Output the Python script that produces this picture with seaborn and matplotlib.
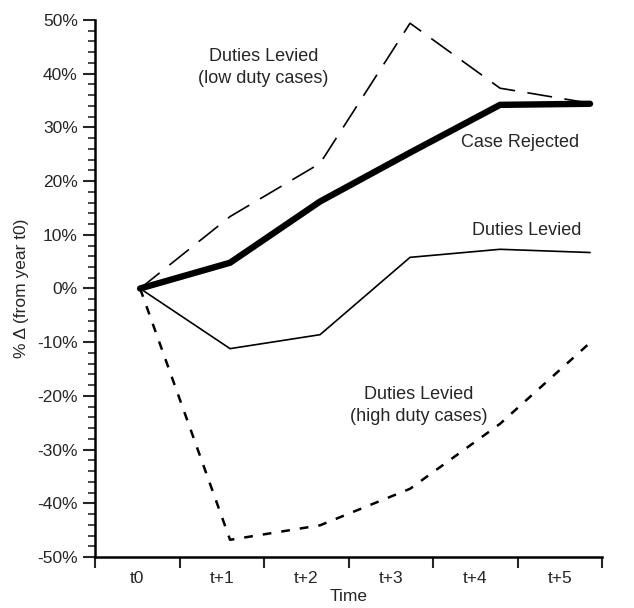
import numpy as np
import pandas as pd
import matplotlib
matplotlib.use("Agg")
import matplotlib.pyplot as plt
import seaborn as sns

# ---- data ----
periods = ["t0", "t+1", "t+2", "t+3", "t+4", "t+5"]
case_rejected = [0.0, 4.8, 16.2, 25.3, 34.2, 34.4]
duties_levied = [0.0, -11.2, -8.6, 5.8, 7.3, 6.7]
duties_low = [0.0, 13.4, 23.3, 49.4, 37.3, 34.5]
duties_high = [0.0, -46.8, -44.1, -37.3, -25.2, -10.1]
y_ticks = [-50, -40, -30, -20, -10, 0, 10, 20, 30, 40, 50]

series = {
    "Case Rejected": case_rejected,
    "Duties Levied": duties_levied,
    "Duties Levied (low duty cases)": duties_low,
    "Duties Levied (high duty cases)": duties_high,
}
rows = []
for name, vals in series.items():
    for i, v in enumerate(vals):
        rows.append({"series": name, "x": i, "value": v})
df = pd.DataFrame(rows)

sns.set_style("ticks")
plt.rcParams["font.family"] = ["Liberation Sans", "DejaVu Sans"]

fig = plt.figure(figsize=(6.34, 6.08), dpi=100)
ax = fig.add_axes([0.150, 0.0839, 0.7995, 0.8832])

styles = {
    "Case Rejected": dict(lw=4.6, ls="-"),
    "Duties Levied": dict(lw=1.2, ls="-"),
    "Duties Levied (low duty cases)": dict(lw=1.2, ls=(0, (15, 7.5))),
    "Duties Levied (high duty cases)": dict(lw=1.8, ls=(0, (3.5, 4))),
}
for name, st in styles.items():
    sub = df[df["series"] == name]
    sns.lineplot(data=sub, x="x", y="value", ax=ax, color="black",
                 linewidth=st["lw"], linestyle=st["ls"], legend=False,
                 solid_joinstyle="miter")

xmin, xmax = -0.5, 5.133
ax.set_xlim(xmin, xmax)
ax.set_ylim(-50, 50)

bounds = np.linspace(xmin, xmax, len(periods) + 1)
centers = (bounds[:-1] + bounds[1:]) / 2
ax.set_xticks(bounds)
ax.set_xticklabels([""] * len(bounds))
ax.set_xticks(centers, minor=True)
ax.set_xticklabels(periods, minor=True)
ax.tick_params(axis="x", which="major", direction="out", length=8, width=1.5)
ax.tick_params(axis="x", which="minor", length=0, labelsize=12.5, pad=10)

ax.set_yticks(y_ticks)
ax.set_yticklabels([f"{t}%" for t in y_ticks])
ax.set_yticks(np.arange(-50, 51, 2), minor=True)
ax.tick_params(axis="y", which="major", direction="out", length=9, width=1.5, labelsize=12.5)
ax.tick_params(axis="y", which="minor", direction="out", length=5, width=1.2)

for s in ["top", "right"]:
    ax.spines[s].set_visible(False)
for s in ["left", "bottom"]:
    ax.spines[s].set_linewidth(1.8)
    ax.spines[s].set_color("black")

ax.set_xlabel("Time", fontsize=12.5, labelpad=2)
ax.set_ylabel("% \u0394 (from year t0)", fontsize=12.5, labelpad=6)

fs = 13
ax.text(1.37, 41.2, "Duties Levied\n(low duty cases)", ha="center", va="center",
        fontsize=fs, linespacing=1.35)
ax.text(4.22, 27.2, "Case Rejected", ha="center", va="center", fontsize=fs)
ax.text(4.3, 10.8, "Duties Levied", ha="center", va="center", fontsize=fs)
ax.text(3.1, -21.8, "Duties Levied\n(high duty cases)", ha="center", va="center",
        fontsize=fs, linespacing=1.35)

fig.savefig("out.png", dpi=100)
